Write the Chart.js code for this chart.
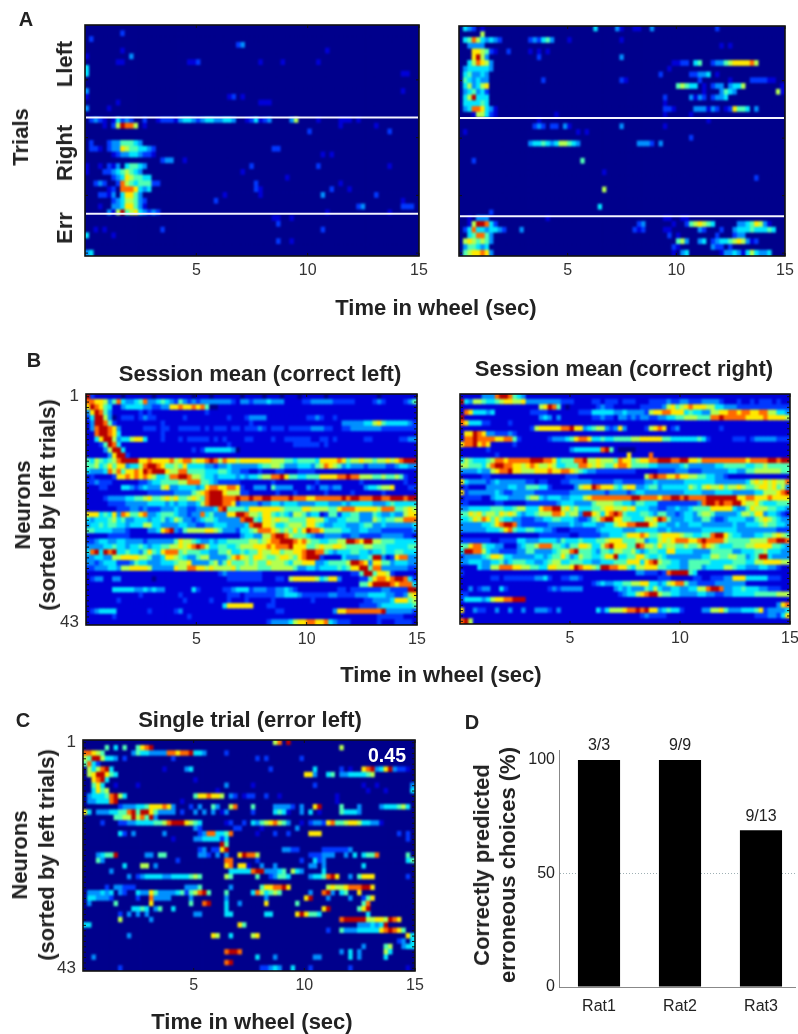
<!DOCTYPE html>
<html>
<head>
<meta charset="utf-8">
<title>Time in wheel</title>
<script src="https://cdn.jsdelivr.net/npm/chart.js@4/dist/chart.umd.min.js"></script>
<style>
  html, body { margin: 0; padding: 0; background: #fff; }
  #page { position: relative; width: 798px; height: 1034px; overflow: hidden; font-family: "Liberation Sans", Arial, sans-serif; }
  #page canvas { position: absolute; filter: blur(0.3px); }
  .lbl { position: absolute; white-space: nowrap; color: #222; filter: blur(0.25px); }
</style>
</head>
<body>
<div id="page"></div>
<script>
// each row: digits are colour levels (0-9) per 0.2 s bin, "n:" jumps to bin n, missing bins are 0
const aLeftRows = [
  '', '8:2', '1:2', '34:23', '8:1 54:1', '0:1 10:3', '7:11 23:11 25:2 39:1 44:1 52:1', '0:4',
  '0:4 71:11', '', '', '0:3 71:1', '0:1 32:12 35:1', '7:1 39:111', '0:3 5:1', '',
  '1:2321 6:14232 13:2 16:12221 21:34432 26:34433 31:443 36:1241 40:23 46:36 52:1 57:111 61:1',
  '4:1 6:269886 13:1 57:1 65:1', '50:2 68:2', '', '1:2 5:23355 10:543',
  '1:221 5:23376554432 42:22', '6:1233443221 53:1 55:1', '17:233 22:1',
  '0:1 3:1 5:21 7:3 9:45543 37:2 52:2 68:1', '0:1 4:223456543 35:1', '6:234765544 45:1',
  '2:232 7:2865455522 38:2 57:1', '5:12 8:8887434 38:21 55:2 59:1', '3:221 6:3 8:47753 31:1 39:1 53:3 65:2',
  '6:23466532 29:2 71:1', '3:1 6:33477531 61:23 71:222', '5:316956743232 54:1 68:1',
  '42:11 46:1', '43:2', '2:1 4:1 17:2 53:2', '0:4 6:1', '43:2 46:1', '', '0:34'
];
const aRightRows = [
  '1:432 5:1 31:4 36:31 40:11 44:3 59:2', '5:6', '1:458643 7:432 16:232453 25:1 37:1', '2:3333 60:1 62:1',
  '3:776521 11:2 16:1 18:1 20:1', '3:7963 18:2 37:3', '2:468763 49:1122 54:45 58:23356777786', '1:3444443 48:1',
  '1:453343 46:2 53:22334 59:1', '1:543433 19:2 37:21 55:2 62:1 67:222211', '1:463467 50:56544 56:1 58:233 62:3445 65:6 74:1',
  '1:345342 56:1 60:3543 73:61', '1:469444 47:2 53:3132 58:2334', '1:444454 47:1', '1:34887431 47:221 54:3331 58:32 61:12 63:7554 68:3',
  '3:166421 22:1 47:1 53:1', '18:1 57:1', '17:232 21:22 24:31 37:3 47:1', '1:1 27:1 29:1', '53:2',
  '16:344543 22:46654 27:3 41:3332 46:3', '', '', '3:2 28:5', '', '33:1', '68:2', '', '33:6', '', '',
  '32:4', '7:2', '2:1 4:333 20:1 47:11 51:11', '2:16998 7:42 41:23 49:1 52:2 53:567654 64:3345 68:763 71:1',
  '1:2484 5:434432 14:3 40:212 47:11 55:32 60:2 63:3444544 70:454', '2:458853 48:2 50:1 59:2 63:233',
  '1:6765653 50:563 55:34 58:234456763 67:12', '1:355434 49:21 58:322 62:2', '1:56778 6:73 49:1 51:34 60:13 62:343 65:146 68:4334'
];
const bLeftRows = [
  '92111 11101 11111 01111 11110 11101 11111 01111 01110 11101 11110 11111 11111 10111 11111',
  '88776 35843 34583 34543 25323 23333 33321 33233 34333 11112 23333 32222 21111 23211 11235',
  '79875 41134 44433 22337 78778 78500 11111 11111 11111 11111 11111 11111 11111 11111 11111',
  '37985 31111 11212 11111 11111 11211 11111 11111 11111 11111 11111 11111 11111 11111 11111',
  '24996 30122 21232 21111 11211 11111 11211 12333 31111 11111 22321 12111 11111 11111 11111',
  '13998 52111 11111 11211 11111 11111 11111 11211 11111 11111 11111 11133 33344 67544 44432',
  '13899 87311 11122 21221 12222 21212 22122 12223 21222 12222 23332 21122 33333 33222 22222',
  '11899 87411 11111 11211 11111 11111 11111 11111 11111 11111 11111 11111 11111 11111 11111',
  '11479 96344 67741 11211 12122 22212 12111 12211 11211 22222 21122 12111 11122 11111 12233',
  '11125 98411 11111 11111 11111 11111 11211 11111 11111 11222 22212 11111 11111 11111 11111',
  '11113 69941 11111 11111 11112 12444 44430 11111 11111 11111 11111 11111 11111 11111 11111',
  '11111 37992 11111 11111 11111 11111 11111 11111 11111 11111 11111 11111 11111 11111 11111',
  '54654 56899 99778 77778 67886 77898 68776 77777 77666 55455 55477 77875 66766 56676 78999',
  '55645 75773 44689 98755 65744 44332 33433 33334 55665 33344 43568 76534 33323 33322 34433',
  '43334 86857 78798 99976 68855 55444 55433 22112 11122 11122 22111 11111 11111 11111 11111',
  '12111 12778 78787 64458 89986 65443 44443 43445 66889 75544 55577 77889 88666 55655 65211',
  '22322 21111 11223 44555 56688 85543 22222 11111 11211 11111 11211 11111 11211 11111 11211',
  '11122 11144 32343 33673 34444 34788 77887 21133 31533 33111 32133 23311 11134 45667 11122',
  '11111 11111 11112 22222 33335 67899 97666 22111 11121 11211 11112 11111 21111 11211 11111',
  '11112 33334 45567 55676 75567 65899 98889 88988 99888 89888 77888 88898 99888 99889 99899',
  '11111 22223 33334 44434 34433 46899 98872 33332 33443 44433 33444 33343 44444 33345 44444',
  '11111 11222 33232 22333 43322 33334 89555 54777 77776 55557 76666 55788 87777 76888 55676',
  '77745 47387 55783 34555 43323 38453 33779 98665 77545 43665 34412 55244 55333 54334 33677',
  '43444 56453 34443 44534 65332 34554 33333 89954 77676 65555 77664 33445 55333 65455 66888',
  '34454 55443 44466 44333 34433 22334 44333 34899 77644 56665 77543 34443 33455 33433 33334',
  '55444 43332 11113 34789 32566 66776 53332 44568 88765 65757 98875 55544 33443 33222 22223',
  '11111 22222 11111 11111 11111 11111 11111 34433 66899 86555 43223 33322 33222 22333 33221',
  '22344 33443 33323 33333 57665 43343 44555 55665 67889 99878 65544 55669 98799 66555 44444',
  '33334 45443 44543 44556 67678 98644 55445 66677 78788 89777 55676 67765 55566 55544 44455',
  '48949 89445 44357 54788 85655 54433 55644 54557 66775 66778 99885 43444 55443 44544 55444',
  '33443 36677 77665 33477 65433 56633 33578 76577 65567 76578 99921 11143 33445 99312 78833',
  '33234 44222 35443 33444 56673 33356 35755 56565 57666 54667 77334 55556 99873 77553 44433',
  '22333 44366 77776 33333 76688 77676 66675 66665 55666 66533 44344 44545 77995 88333 33322',
  '11111 11111 11111 11111 11111 11111 23222 22222 11111 11111 11111 11111 22599 57762 11111',
  '12331 13311 11111 01111 11111 11111 11222 22222 11122 16777 77645 77311 11225 78878 99842',
  '11111 11111 11111 11111 11111 11111 11111 11111 11111 11111 11111 11111 11557 99998 78884',
  '11111 14444 43343 43311 11114 21111 12234 44233 32233 43211 11111 11221 22222 22332 22299',
  '11111 11111 11211 11111 12111 11111 11222 12222 22233 44432 22222 33222 23334 44433 22367',
  '11111 11211 11111 11111 11211 11121 11211 12111 11211 11111 12111 11111 11122 33334 77756',
  '11111 11111 11111 11111 11111 11111 14777 77711 12211 11111 11111 11111 11222 23444 44445',
  '12344 44111 11112 11111 23111 11111 11111 11111 11122 11111 11111 13778 88888 88933 33332',
  '11111 12111 11111 11111 11121 11111 11111 11111 11111 11111 11111 11111 11111 12222 22111',
  '11111 11111 11111 11111 11111 11111 11111 11111 12333 34677 88778 43222 11111 12111 22221'
];
const bRightRows = [
  '11111 33389 98543 11111 11111 11111 11111 11111 11111 11111 11111 11111 11111 11111 11111',
  '94366 54456 77667 33333 33322 21111 22122 21222 11122 22322 33222 33332 11121 12122 21211',
  '11111 11111 11111 11167 98510 11111 12322 11111 12222 23675 67877 76644 33322 22222 22222',
  '18744 43411 11111 12222 11111 11222 44444 33433 33267 78877 74544 33667 78878 87788 66443',
  '91111 11111 11111 11134 31311 11111 22322 13323 23322 33445 56665 55889 88888 77778 77776',
  '87444 22111 12111 11111 11111 11111 11111 11111 11111 11111 11111 11111 11111 11111 11111',
  '11111 11111 11111 12677 77788 97734 56632 37311 11267 87123 11111 11112 11111 11111 11111',
  '17798 73322 23211 11111 11111 11111 11111 11111 11111 11111 11111 11111 11111 11111 11111',
  '18898 88877 88521 11111 23334 57887 44544 55556 67777 75544 44445 42111 11222 12333 33222',
  '78897 87111 11211 11111 11111 11111 11111 11111 11111 11111 11111 11111 11111 11111 11111',
  '11111 12111 11111 11111 11111 34444 44895 10000 11111 11111 11111 11111 11111 11111 11111',
  '11111 11121 11111 11111 11111 11111 11111 11171 11181 11111 11111 11111 11111 11111 11111',
  '46544 45688 78888 89998 87455 58896 67666 58775 67788 99988 99776 88888 88888 78888 99899',
  '66555 46899 88776 78766 76445 55887 67655 78875 55544 33333 45333 33344 55555 44556 55555',
  '33334 33678 89776 66777 87788 76543 32222 22222 11111 22223 33222 33333 34433 55666 66655',
  '11111 22111 11111 11111 11112 22111 11111 11111 11689 88778 77665 54433 21111 11111 11111',
  '74333 32343 33333 22122 11122 33333 22222 33222 22334 33333 34444 44433 33333 46767 67668',
  '12111 13333 34433 55544 21111 13677 98777 54677 33455 34444 44654 67667 56676 55677 67563',
  '72333 33343 22333 33222 22222 33333 33323 33323 44333 33333 34444 33344 44333 33446 66789',
  '12222 11344 43333 56643 44433 44467 88888 88889 98888 78899 89888 89999 99977 88777 87777',
  '22111 11122 11111 22222 22344 43333 56666 55443 55444 22222 22223 89989 88997 66754 44555',
  '33444 44555 44566 44478 89967 56444 55677 66767 44433 22334 33455 55777 77433 57666 55443',
  '55767 56657 67643 44566 68875 66399 76478 98544 45543 55332 34435 66533 33346 65773 44321',
  '44576 87575 44332 22334 45544 43223 56899 77554 44667 98533 34433 55322 34444 33567 65433',
  '33333 44578 99832 22222 33333 43344 43344 67788 99976 44334 33444 33333 33433 44456 55443',
  '33333 34445 78544 55443 32111 22222 23444 44333 44444 33433 33333 44444 44433 33333 33222',
  '11111 11111 11111 11122 22222 11222 22334 44577 78755 67777 65544 55899 75443 33445 56765',
  '22222 22112 22244 33344 44354 44544 45567 77555 66344 67678 88778 98888 65555 56666 88998',
  '55788 54433 11134 55688 85543 55776 44689 77755 98665 75665 56556 87654 44555 66777 75543',
  '49988 64332 22233 55333 34566 89555 43554 66556 43455 44774 44433 33555 55334 44556 44433',
  '23333 45776 44333 33443 45575 34655 44577 94455 77544 54333 33333 44665 56655 34599 43333',
  '33444 33445 34555 44334 56644 55544 33444 55577 74789 65544 33555 55444 44555 44667 77766',
  '11114 33668 88776 65544 77666 79877 65998 87754 66777 55444 33555 34444 66544 33344 33211',
  '21111 11111 11111 11111 11111 11111 11111 11111 33222 12899 99541 11111 11111 11111 11111',
  '11111 11221 22222 22334 21122 33211 11111 11111 11111 22211 11122 11222 33777 44444 22211',
  '11111 11111 11111 11111 11111 11111 23433 44556 67744 34678 85332 22233 33333 11111 11111',
  '11312 33114 21111 11111 23233 33311 11111 34343 33546 43344 33446 68998 33445 44433 22211',
  '22111 11111 11111 11111 11111 11111 11111 12344 67899 65544 33334 43322 33444 44555 55666',
  '24444 34677 88999 11111 11111 11111 11111 11111 11111 11111 11111 11111 11111 11111 11111',
  '11111 11111 11111 11111 11111 11111 11111 11111 11111 11111 11111 11111 11111 11111 11378',
  '71132 21131 13113 11333 21311 11111 14246 66788 98977 34544 21111 33667 53334 44572 33334',
  '11111 11111 11111 11111 11111 11111 11111 11111 12322 22111 11111 11111 11111 11222 33247',
  '89611 11111 11111 11111 11111 11111 11111 11111 11111 11111 11111 11111 11111 11111 11111'
];
const cRows = [
  '43:68 46:9',
  '5:5 7:4 9:5 12:5789 58:6',
  '0:88765 11:35443 16:3338 20:87889 25:443 32:2',
  '0:65996 5:443 9:2 20:2 39:2 41:2 49:2',
  '0:5842',
  '1:646894 18:1 23:34 42:2 52:4 58:2 60:1 63:7893 67:4 68:79 70:3221',
  '1:67997 6:54 50:773 55:45 58:33444 63:456',
  '2:7894 25:1',
  '2:574 7:1 12:1 32:3 38:1 52:2 63:1 66:1 74:3',
  '2:4756 30:1 64:1 68:1 74:4',
  '1:344458964 25:5778 29:776 33:32 36:122 41:2 44:1 57:1',
  '1:334448 7:9 22:1 57:1',
  '8:233344 14:57778 19:73 24:2 26:3 29:53 33:68 38:5 43:33332 49:3 52:79 58:5 62:3 67:3444564',
  '0:74 3:33344 8:558959 14:97 16:5 17:3333 22:2 25:3 27:3 29:3 31:1 32:3 38:2 43:454 46:1 49:3 51:4 53:1 58:5444 62:3',
  '7:55669 12:68593',
  '4:2 8:223344445 17:5689 21:9976 25:54 32:12 36:2 38:435 41:678653 49:1 51:2332 55:785567 61:76443 66:31',
  '25:32 34:22 40:1 48:3',
  '8:4 9:2 11:3 18:3 26:238844 32:58 39:1 43:2 46:2 51:777 71:2 73:2',
  '20:1 25:3344 29:442 32:4 73:2',
  '31:95',
  '26:23 29:22 31:79 45:3322 54:2222223',
  '3:34559 14:33 17:55 26:332 30:3 32:3 35:79886 51:222333 59:3 61:4 63:4558 73:5',
  '3:53 21:2 32:88 39:2 49:2 52:4 53:2 54:3 73:45',
  '9:4 13:66 16:3 32:78 35:77 37:1 40:3 43:3 51:33 54:3 63:4',
  '6:3 33:44444 38:899 41:33345 47:643 54:4',
  '10:3 12:23 14:4444 18:3344 22:44 24:565 32:65 39:5 42:23554 51:34458 56:97 60:3 62:5777 73:2',
  '',
  '5:2 7:33222 23:3335 33:3 40:57788 45:97 55:6 56:766 59:78889 64:97',
  '1:333434 8:32 12:43375 17:3333 21:452 24:56895 32:5 38:4864 42:565 51:3 54:89 56:3 58:45 62:7',
  '1:443332 12:2 15:83333 24:3 32:3 41:3 50:79 55:3 60:3 63:25 65:7',
  '1:3 7:5 15:7 24:5 27:89 32:4 35:3 41:7 48:5 63:58',
  '11:4454 16:35 20:4 32:4 54:79 62:579',
  '8:2 10:3 12:3 14:3 25:33 32:44 41:44 48:797554 64:4',
  '8:6 15:3 58:8999996677 68:6987',
  '0:44 35:75 62:3334 66:349',
  '55:2 58:53 60:33444 65:44 67:78987 72:5',
  '10:3 29:76 33:4 38:67 73:74',
  '71:23 74:4',
  '63:3 68:56 72:344',
  '32:8998 58:3 60:4 62:3 68:64',
  '2:3 39:4 43:3 52:33 60:4 62:3 68:4',
  '32:89',
  '8:2 40:22343 47:4 51:2 60:2 73:1'
];
const timeTicks = [5, 10, 15];
const aLeftDividers = [15.5, 32.2];
const aRightDividers = [15.5, 32.6];

const ratNames = ['Rat1', 'Rat2', 'Rat3'];
const ratPositions = [1, 2, 3];
const ratPercent = [100, 100, 69];
const ratCounts = ['3/3', '9/9', '9/13'];

// jet colour levels
const jet = ['#00008c', '#0000d8', '#0038ff', '#0090ff', '#00e4ff', '#50ffb4', '#b4ff50', '#ffe800', '#ff6a00', '#b80000'];
const BIN = 0.2;
const NBINS = 75;

function parseRow(row) {
    const cells = new Array(NBINS).fill(0);
    let pos = 0;
    row.split(' ').forEach(tok => {
        if (!tok) return;
        let digits = tok;
        if (tok.includes(':')) {
            const parts = tok.split(':');
            pos = +parts[0];
            digits = parts[1];
        }
        for (const ch of digits) cells[pos++] = +ch;
    });
    return cells;
}

// soft cells like the original image, then separators, inner tick marks and frame
const framePlugin = {
    id: 'frame',
    afterDatasetsDraw(chart, args, opts) {
        const { ctx, chartArea: a, scales } = chart;
        ctx.save();
        ctx.beginPath();
        ctx.rect(a.left, a.top, a.right - a.left, a.bottom - a.top);
        ctx.clip();
        ctx.filter = 'blur(1px)';
        ctx.drawImage(chart.canvas, 0, 0);
        ctx.restore();

        ctx.save();
        if (opts.dividers) {
            ctx.strokeStyle = '#f4f4ff';
            ctx.lineWidth = 2;
            opts.dividers.forEach(d => {
                const y = scales.y.getPixelForValue(d);
                ctx.beginPath();
                ctx.moveTo(a.left + 1, y);
                ctx.lineTo(a.right - 1, y);
                ctx.stroke();
            });
        }
        ctx.strokeStyle = '#111';
        ctx.lineWidth = 1;
        ctx.beginPath();
        scales.y.ticks.forEach(t => {
            const y = scales.y.getPixelForValue(t.value);
            ctx.moveTo(a.left, y); ctx.lineTo(a.left + 3, y);
            ctx.moveTo(a.right, y); ctx.lineTo(a.right - 3, y);
        });
        timeTicks.forEach(v => {
            const x = scales.x.getPixelForValue(v);
            ctx.moveTo(x, a.bottom); ctx.lineTo(x, a.bottom - 3);
            ctx.moveTo(x, a.top); ctx.lineTo(x, a.top + 3);
        });
        ctx.stroke();
        ctx.lineWidth = 1.6;
        ctx.strokeRect(a.left, a.top, a.right - a.left, a.bottom - a.top);
        ctx.restore();
    }
};

function addCanvas(left, top, w, h) {
    const c = document.createElement('canvas');
    c.width = w;
    c.height = h;
    c.style.left = left + 'px';
    c.style.top = top + 'px';
    c.style.width = w + 'px';
    c.style.height = h + 'px';
    document.getElementById('page').appendChild(c);
    return c;
}

function heatmap(box, rows, opts) {
    const LEFT = 34, TOP = 18, RIGHT = 14, BOTTOM = 26;
    const canvas = addCanvas(box.x - LEFT, box.y - TOP, box.w + LEFT + RIGHT, box.h + TOP + BOTTOM);
    const labels = rows.map((_, i) => String(i + 1));
    const cells = [];
    const colors = [];
    rows.forEach((row, r) => {
        parseRow(row).forEach((level, b) => {
            cells.push({ x: [b * BIN, (b + 1) * BIN], y: labels[r] });
            colors.push(jet[level]);
        });
    });
    return new Chart(canvas, {
        type: 'bar',
        data: {
            labels,
            datasets: [{
                data: cells,
                backgroundColor: colors,
                borderWidth: 0,
                barPercentage: 1,
                categoryPercentage: 1,
                inflateAmount: 0.4
            }]
        },
        options: {
            indexAxis: 'y',
            responsive: false,
            animation: false,
            events: [],
            layout: { padding: { top: TOP, right: RIGHT, left: 0, bottom: 0 } },
            plugins: {
                legend: { display: false },
                tooltip: { enabled: false },
                frame: { dividers: opts.dividers }
            },
            scales: {
                x: {
                    type: 'linear',
                    min: 0,
                    max: 15,
                    afterFit: s => { s.height = BOTTOM; },
                    grid: { display: false, drawTicks: false },
                    border: { display: false },
                    ticks: {
                        stepSize: 5,
                        maxRotation: 0,
                        padding: 5,
                        color: '#333',
                        font: { size: 16, family: 'Liberation Sans' },
                        callback: v => (v === 0 ? '' : String(v))
                    }
                },
                y: {
                    type: 'category',
                    afterFit: s => { s.width = LEFT; },
                    afterBuildTicks: s => {
                        if (opts.tickEvery) s.ticks = s.ticks.filter(t => (t.value + 1) % opts.tickEvery === 0);
                    },
                    grid: { display: false, drawTicks: false },
                    border: { display: false },
                    ticks: {
                        display: !!opts.rowLabels,
                        autoSkip: false,
                        padding: 7,
                        color: '#333',
                        font: { size: 17, family: 'Liberation Sans' },
                        callback: function (v) {
                            return (v === 0 || v === rows.length - 1) ? String(v + 1) : '';
                        }
                    }
                }
            }
        },
        plugins: [framePlugin]
    });
}

const countLabels = {
    id: 'countLabels',
    afterDatasetsDraw(chart) {
        const { ctx } = chart;
        ctx.save();
        ctx.fillStyle = '#222';
        ctx.font = '16px "Liberation Sans"';
        ctx.textAlign = 'center';
        ctx.textBaseline = 'bottom';
        chart.getDatasetMeta(0).data.forEach((bar, i) => {
            ctx.fillText(ratCounts[i], bar.x, bar.y - 6);
        });
        ctx.restore();
    }
};

function ratChart(box) {
    const LEFT = 40, TOP = 14, RIGHT = 3, BOTTOM = 34;
    const canvas = addCanvas(box.x - LEFT, box.y - TOP, box.w + LEFT + RIGHT, box.h + TOP + BOTTOM);
    return new Chart(canvas, {
        type: 'bar',
        data: {
            datasets: [{
                data: ratPositions.map((p, i) => ({ x: p, y: ratPercent[i] })),
                backgroundColor: '#000',
                borderWidth: 0,
                barPercentage: 0.52,
                categoryPercentage: 1
            }]
        },
        options: {
            responsive: false,
            animation: false,
            events: [],
            layout: { padding: { top: TOP, right: RIGHT, left: 0, bottom: 0 } },
            plugins: { legend: { display: false }, tooltip: { enabled: false } },
            scales: {
                x: {
                    type: 'linear',
                    offset: false,
                    min: 0.506,
                    max: 3.42,
                    afterFit: s => { s.height = BOTTOM; },
                    afterBuildTicks: s => { s.ticks = ratPositions.map(v => ({ value: v })); },
                    grid: { display: false, offset: false, drawTicks: false },
                    border: { color: '#888', width: 1 },
                    ticks: {
                        autoSkip: false,
                        maxRotation: 0,
                        padding: 10,
                        color: '#222',
                        font: { size: 16, family: 'Liberation Sans' },
                        callback: v => ratNames[v - 1]
                    }
                },
                y: {
                    min: 0,
                    max: 104.4,
                    afterFit: s => { s.width = LEFT; },
                    grid: {
                        drawTicks: false,
                        color: c => (c.tick.value === 50 ? '#9fb0b4' : 'transparent'),
                        lineWidth: 1
                    },
                    border: { color: '#888', width: 1, dash: [1, 2] },
                    ticks: {
                        stepSize: 50,
                        includeBounds: false,
                        padding: 4,
                        color: '#222',
                        font: { size: 16, family: 'Liberation Sans' }
                    }
                }
            }
        },
        plugins: [countLabels]
    });
}

function addText(text, cx, cy, size, opts) {
    const o = opts || {};
    const d = document.createElement('div');
    d.className = 'lbl';
    d.textContent = text;
    d.style.left = cx + 'px';
    d.style.top = cy + 'px';
    d.style.fontSize = size + 'px';
    d.style.fontWeight = o.normal ? 'normal' : 'bold';
    if (o.color) d.style.color = o.color;
    d.style.transform = 'translate(-50%,-50%)' + (o.vertical ? ' rotate(-90deg)' : '');
    document.getElementById('page').appendChild(d);
}

heatmap({ x: 85, y: 25, w: 334, h: 231 }, aLeftRows, { tickEvery: 10, dividers: aLeftDividers });
heatmap({ x: 459, y: 26, w: 326, h: 230 }, aRightRows, { tickEvery: 10, dividers: aRightDividers });
heatmap({ x: 86, y: 394, w: 331, h: 231 }, bLeftRows, { rowLabels: true });
heatmap({ x: 460, y: 394, w: 330, h: 230 }, bRightRows, {});
heatmap({ x: 83, y: 740, w: 332, h: 231 }, cRows, { rowLabels: true });
ratChart({ x: 559, y: 750, w: 236, h: 237 });

addText('A', 26, 19, 20);
addText('Trials', 21, 137, 22, { vertical: true });
addText('Lleft', 65, 64, 22, { vertical: true });
addText('Right', 65, 153, 22, { vertical: true });
addText('Err', 65, 228, 22, { vertical: true });
addText('Time in wheel (sec)', 436, 308, 22);

addText('B', 34, 360, 20);
addText('Session mean (correct left)', 260, 374, 22);
addText('Session mean (correct right)', 624, 369, 22);
addText('Neurons', 23, 505, 22, { vertical: true });
addText('(sorted by left trials)', 48, 505, 22, { vertical: true });
addText('Time in wheel (sec)', 441, 675, 22);

addText('C', 23, 720, 20);
addText('Single trial (error left)', 250, 720, 22);
addText('0.45', 387, 755, 19.5, { color: '#fff' });
addText('Neurons', 20, 855, 22, { vertical: true });
addText('(sorted by left trials)', 47, 855, 22, { vertical: true });
addText('Time in wheel (sec)', 252, 1022, 22);

addText('D', 472, 722, 20);
addText('Correctly predicted', 482, 865, 22, { vertical: true });
addText('erroneous choices (%)', 508, 865, 22, { vertical: true });
</script>
</body>
</html>
